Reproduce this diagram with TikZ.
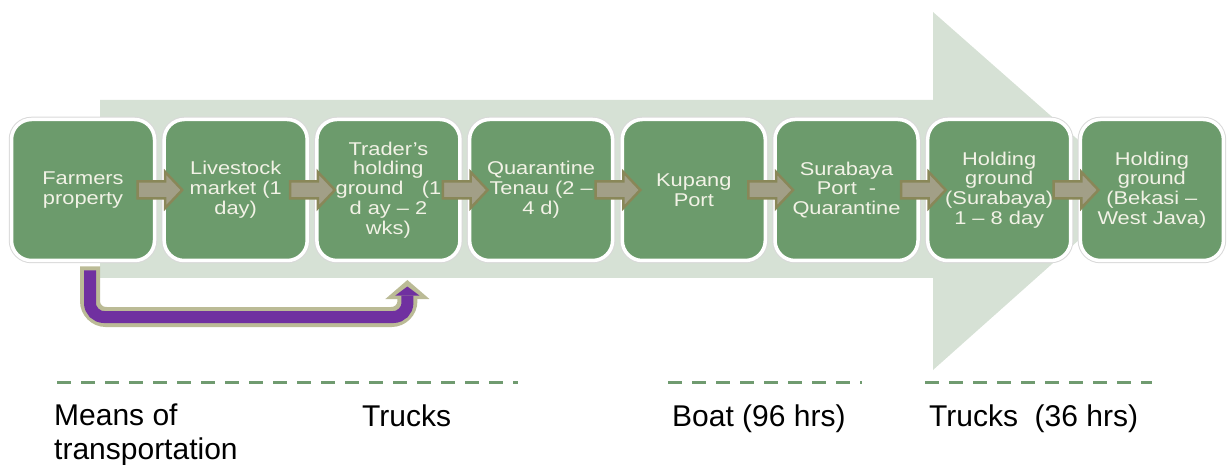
\documentclass[tikz,border=0pt]{standalone}
\usepackage{fontspec}
\setmainfont{Liberation Sans}
\newfontfamily\boxfont[FakeStretch=1.18]{Liberation Sans}
\usetikzlibrary{positioning, calc, arrows.meta}

\definecolor{boxgreen}{RGB}{108,155,108}
\definecolor{backarrow}{RGB}{214,225,213}
\definecolor{stepfill}{RGB}{162,159,135}
\definecolor{stepedge}{RGB}{137,135,88}
\definecolor{bendpurple}{RGB}{112,48,160}
\definecolor{bendedge}{RGB}{187,187,150}
\definecolor{dashgreen}{RGB}{112,155,112}
\definecolor{boxtext}{RGB}{242,242,230}

\tikzset{
  stagebox/.style={rectangle, rounded corners=20pt, fill=boxgreen, draw=white, line width=3.5pt,
    preaction={draw=black!15, line width=5.5pt}, minimum width=143pt, minimum height=141pt,
    inner sep=2pt, outer sep=0pt, align=center, text=boxtext,
    font=\boxfont\fontsize{18.5}{19.8}\selectfont},
  stepconn/.style={draw=stepedge, fill=stepfill, line width=2.5pt, line join=miter,
    to path={let \p1=(\tikztostart), \p2=(\tikztotarget) in
      (\x1,\y1+8.5pt) -- (\x2-17pt,\y1+8.5pt) -- (\x2-17pt,\y1+18pt) -- (\x2,\y1)
      -- (\x2-17pt,\y1-18pt) -- (\x2-17pt,\y1-8.5pt) -- (\x1,\y1-8.5pt) -- cycle}},
  dashline/.style={dashgreen, line width=3pt, dash pattern=on 14pt off 10pt},
  translabel/.style={inner sep=0pt, align=left, font=\fontsize{30}{34}\selectfont}
}

\begin{document}
\begin{tikzpicture}[x=1pt, y=-1pt]
\useasboundingbox (0,0) rectangle (1232,465);
% big arrow behind the chain
\fill[backarrow] (100,100) -- (933,100) -- (933,12) -- (1135,190) -- (933,370) -- (933,278) -- (100,278) -- cycle;

\node[stagebox] (farmers) at (83,190) {Farmers\\property};
\node[stagebox, right=9.7pt of farmers] (market) {Livestock\\market (1\\day)};
\node[stagebox, right=9.7pt of market] (trader) {Trader’s\\holding\\ground \ \ (1\\d ay – 2\\wks)};
\node[stagebox, right=9.7pt of trader] (tenau) {Quarantine\\Tenau (2 –\\4 d)};
\node[stagebox, right=9.7pt of tenau] (kupang) {Kupang\\Port};
\node[stagebox, right=9.7pt of kupang] (surabaya) {Surabaya\\Port \ -\\Quarantine};
\node[stagebox, right=9.7pt of surabaya] (holdsby) {Holding\\ground\\(Surabaya)\\1 – 8 day};
\node[stagebox, right=9.7pt of holdsby] (holdbks) {Holding\\ground\\(Bekasi –\\West Java)};

\draw[stepconn] ([xshift=-17pt]farmers.east) to ([xshift=18pt]market.west);
\draw[stepconn] ([xshift=-17pt]market.east) to ([xshift=18pt]trader.west);
\draw[stepconn] ([xshift=-17pt]trader.east) to ([xshift=18pt]tenau.west);
\draw[stepconn] ([xshift=-17pt]tenau.east) to ([xshift=18pt]kupang.west);
\draw[stepconn] ([xshift=-17pt]kupang.east) to ([xshift=18pt]surabaya.west);
\draw[stepconn] ([xshift=-17pt]surabaya.east) to ([xshift=18pt]holdsby.west);
\draw[stepconn] ([xshift=-17pt]holdsby.east) to ([xshift=18pt]holdbks.west);

% farmers straight to the trader
\draw[bendedge, line width=20pt, rounded corners=16pt, -{Triangle[length=19pt, width=44pt, line width=0pt]}]
  ([xshift=7pt, yshift=-6pt]farmers.south) -- ++(0,50.5) -| ([xshift=19pt, yshift=-19.5pt]trader.south);
\draw[bendpurple, line width=12pt, rounded corners=14pt, -{Triangle[length=9pt, width=24pt, line width=0pt]}]
  ([xshift=7pt, yshift=-10pt]farmers.south) -- ++(0,46.5) -| ([xshift=19pt, yshift=-26pt]trader.south);

\draw[dashline] (57,382) -- (518,382);
\draw[dashline] (668,382) -- (862,382);
\draw[dashline] (925,382) -- (1152,382);

\node[translabel, anchor=north west] (means) at (54,404) {Means of\\transportation};
\node[translabel, anchor=base west] (trucks) at (362,426) {Trucks};
\node[translabel, anchor=base west] (boat) at (672,426) {Boat (96 hrs)};
\node[translabel, anchor=base west] (trucksjava) at (929,426) {Trucks\ \ (36 hrs)};
\end{tikzpicture}
\end{document}
